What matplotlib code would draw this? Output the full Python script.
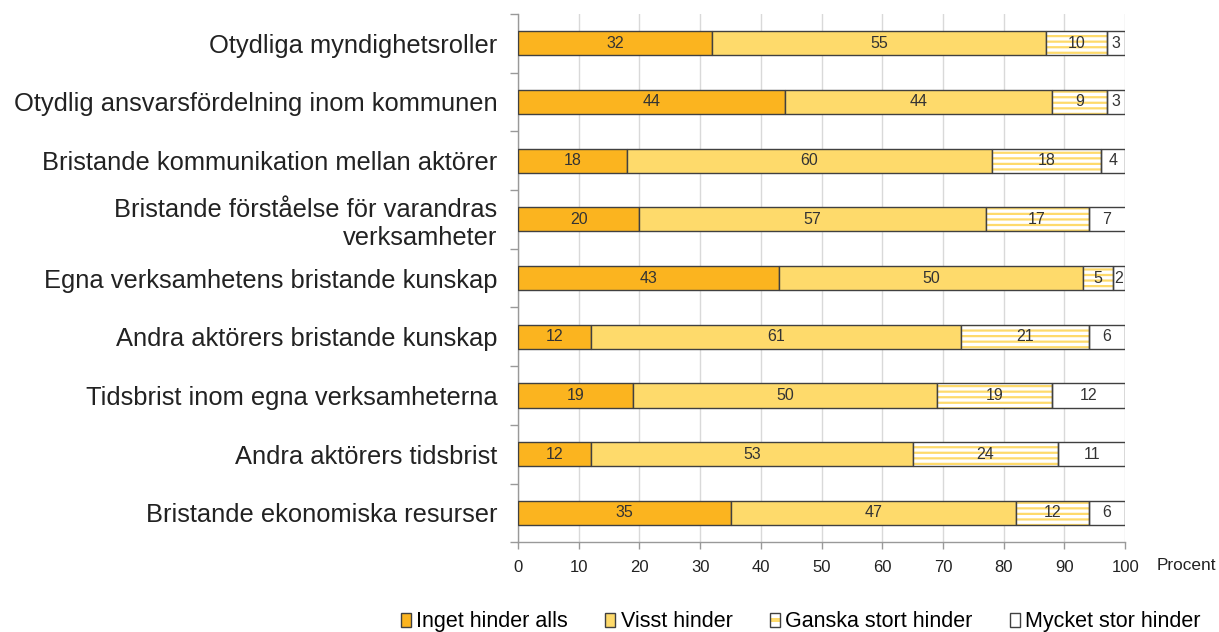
import matplotlib
matplotlib.use("Agg")
import matplotlib.pyplot as plt
import numpy as np
from matplotlib.patches import Patch, Rectangle

plt.rcParams['font.family'] = ['Liberation Sans', 'DejaVu Sans']
plt.rcParams['hatch.linewidth'] = 1.6

categories = [
    "Otydliga myndighetsroller",
    "Otydlig ansvarsfördelning inom kommunen",
    "Bristande kommunikation mellan aktörer",
    "Bristande förståelse för varandras\nverksamheter",
    "Egna verksamhetens bristande kunskap",
    "Andra aktörers bristande kunskap",
    "Tidsbrist inom egna verksamheterna",
    "Andra aktörers tidsbrist",
    "Bristande ekonomiska resurser",
]
inget = [32, 44, 18, 20, 43, 12, 19, 12, 35]
visst = [55, 44, 60, 57, 50, 61, 50, 53, 47]
ganska = [10, 9, 18, 17, 5, 21, 19, 24, 12]
mycket = [3, 3, 4, 7, 2, 6, 12, 11, 6]
series_names = ["Inget hinder alls", "Visst hinder", "Ganska stort hinder", "Mycket stor hinder"]
xticks = [0, 10, 20, 30, 40, 50, 60, 70, 80, 90, 100]

c_orange = "#FBB41F"
c_yellow = "#FEDA6B"
c_edge = "#404040"

fig = plt.figure(figsize=(12.19, 6.32), dpi=100)
ax = fig.add_axes([0.425, 0.142, 0.498, 0.836])

y = np.arange(len(categories))
h = 0.41
left = np.zeros(len(categories))

b1 = ax.barh(y, inget, left=left, height=h, color=c_orange, edgecolor=c_edge, linewidth=1, zorder=3)
left += inget
b2 = ax.barh(y, visst, left=left, height=h, color=c_yellow, edgecolor=c_edge, linewidth=1, zorder=3)
left += visst
ax.barh(y, ganska, left=left, height=h, color="white", edgecolor=c_yellow, linewidth=0, hatch='---', zorder=3)
b3 = ax.barh(y, ganska, left=left, height=h, color="none", edgecolor=c_edge, linewidth=1, zorder=4)
left += ganska
b4 = ax.barh(y, mycket, left=left, height=h, color="white", edgecolor=c_edge, linewidth=1, zorder=3)

for b in (b1, b2, b3, b4):
    ax.bar_label(b, label_type='center', fontsize=11.5, color="#333333", zorder=5)

ax.set_ylim(8.5, -0.5)
ax.set_xlim(0, 100)
ax.set_yticks(y)
ax.set_yticklabels(categories, fontsize=18.4, color="#222222")
ax.set_yticks(np.arange(-0.5, 9.0, 1.0), minor=True)
ax.tick_params(axis='y', which='major', length=0, pad=15)
ax.tick_params(axis='y', which='minor', length=6, color="#999999", width=1)
ax.set_xticks(xticks)
ax.set_xticklabels([str(t) for t in xticks], fontsize=12, color="#222222")
ax.tick_params(axis='x', length=5, color="#999999", width=1, pad=8)
ax.xaxis.grid(True, color="#D9D9D9", linewidth=1, zorder=0)
ax.set_axisbelow(True)
for s in ('top', 'right'):
    ax.spines[s].set_visible(False)
for s in ('left', 'bottom'):
    ax.spines[s].set_color("#999999")
    ax.spines[s].set_linewidth(1)

fig.text(0.949, 0.105, "Procent", fontsize=12.4, color="#222222", ha='left', va='center')


class GanskaHandler:
    def legend_artist(self, legend, orig_handle, fontsize, handlebox):
        x0, y0 = -handlebox.xdescent, -handlebox.ydescent
        w, hh = handlebox.width, handlebox.height
        tr = handlebox.get_transform()
        bg = Rectangle((x0, y0), w, hh, facecolor="white", edgecolor="none", transform=tr)
        strip = Rectangle((x0, y0 + hh * 0.38), w, hh * 0.24, facecolor=c_yellow,
                          edgecolor="none", transform=tr)
        box = Rectangle((x0, y0), w, hh, facecolor="none", edgecolor=c_edge, linewidth=1, transform=tr)
        handlebox.add_artist(bg)
        handlebox.add_artist(strip)
        handlebox.add_artist(box)
        return box


h_gan = Patch(facecolor="white", edgecolor=c_edge, linewidth=1, label="ganska")
handles = [
    Patch(facecolor=c_orange, edgecolor=c_edge, linewidth=1),
    Patch(facecolor=c_yellow, edgecolor=c_edge, linewidth=1),
    h_gan,
    Patch(facecolor="white", edgecolor=c_edge, linewidth=1),
]
leg = fig.legend(handles, series_names, loc='center', bbox_to_anchor=(0.657, 0.016), ncol=4,
                 frameon=False, fontsize=15.5, handlelength=0.45, handleheight=0.65,
                 handletextpad=0.25, columnspacing=1.75,
                 handler_map={h_gan: GanskaHandler()})

fig.savefig("out.png", dpi=100)
